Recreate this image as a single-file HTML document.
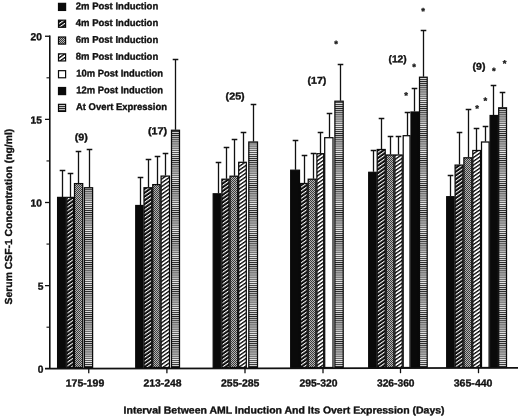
<!DOCTYPE html>
<html><head><meta charset="utf-8"><title>Serum CSF-1 Concentration</title>
<style>
html,body{margin:0;padding:0;background:#fff}
svg{display:block}
text{font-family:"Liberation Sans",sans-serif;font-weight:bold;fill:#111;stroke:#111;stroke-width:0.35px;stroke-linejoin:round;text-rendering:geometricPrecision}
</style></head><body>
<svg width="520" height="417" viewBox="0 0 520 417">
<defs>
<pattern id="p4" patternUnits="userSpaceOnUse" width="4" height="3.1" patternTransform="rotate(-35)"><rect width="4" height="3.1" fill="#0a0a0a"/><rect width="4" height="1.05" fill="#fff"/></pattern>
<pattern id="p8" patternUnits="userSpaceOnUse" width="4" height="3.1" patternTransform="rotate(-35)"><rect width="4" height="3.1" fill="#fff"/><rect width="4" height="1.35" fill="#0a0a0a"/></pattern>
<pattern id="p6" patternUnits="userSpaceOnUse" width="2" height="2"><rect width="2" height="2" fill="#b4b4b4"/><rect width="1" height="1" fill="#3c3c3c"/><rect x="1" y="1" width="1" height="1" fill="#3c3c3c"/></pattern>
<pattern id="po" patternUnits="userSpaceOnUse" width="4" height="2.08"><rect width="4" height="2.08" fill="#e8e8e8"/><rect width="4" height="0.95" fill="#222"/></pattern>
</defs>
<rect width="520" height="417" fill="#fff"/>

<g stroke="#111" stroke-width="1.3" fill="none">
<path d="M62.50 196.90V170.50M59.70 170.50H65.30"/>
<path d="M70.50 196.90V173.50M67.70 173.50H73.30"/>
<path d="M78.50 183.10V151.50M75.70 151.50H81.30"/>
<path d="M89.50 187.25V149.50M86.70 149.50H92.30"/>
<path d="M140.50 205.00V177.50M137.70 177.50H143.30"/>
<path d="M148.50 187.25V159.50M145.70 159.50H151.30"/>
<path d="M157.50 184.10V156.50M154.70 156.50H160.30"/>
<path d="M165.50 175.60V153.50M162.70 153.50H168.30"/>
<path d="M175.50 129.75V59.50M172.70 59.50H178.30"/>
<path d="M218.50 193.30V162.50M215.70 162.50H221.30"/>
<path d="M226.50 178.70V147.50M223.70 147.50H229.30"/>
<path d="M234.50 175.70V139.50M231.70 139.50H237.30"/>
<path d="M243.50 161.80V132.50M240.70 132.50H246.30"/>
<path d="M253.50 141.50V104.50M250.70 104.50H256.30"/>
<path d="M295.50 169.70V140.50M292.70 140.50H298.30"/>
<path d="M304.50 183.00V155.50M301.70 155.50H307.30"/>
<path d="M313.50 178.70V153.50M310.70 153.50H316.30"/>
<path d="M320.50 153.20V132.50M317.70 132.50H323.30"/>
<path d="M329.50 137.20V113.50M326.70 113.50H332.30"/>
<path d="M340.50 100.70V64.50M337.70 64.50H343.30"/>
<path d="M373.50 171.80V150.50M370.70 150.50H376.30"/>
<path d="M381.50 149.00V118.50M378.70 118.50H384.30"/>
<path d="M390.50 154.50V136.50M387.70 136.50H393.30"/>
<path d="M398.50 154.50V136.50M395.70 136.50H401.30"/>
<path d="M407.50 135.20V112.50M404.70 112.50H410.30"/>
<path d="M414.50 111.50V88.50M411.70 88.50H417.30"/>
<path d="M423.50 76.70V30.50M420.70 30.50H426.30"/>
<path d="M450.50 196.20V175.50M447.70 175.50H453.30"/>
<path d="M459.50 164.60V132.50M456.70 132.50H462.30"/>
<path d="M468.50 157.30V109.50M465.70 109.50H471.30"/>
<path d="M476.50 150.00V128.50M473.70 128.50H479.30"/>
<path d="M485.50 141.50V126.50M482.70 126.50H488.30"/>
<path d="M493.50 115.00V85.50M490.70 85.50H496.30"/>
<path d="M502.50 107.30V92.50M499.70 92.50H505.30"/>
</g>
<g stroke="#0a0a0a" stroke-width="1.25">
<rect x="57.60" y="197.40" width="8.20" height="170.10" fill="#0a0a0a"/>
<rect x="66.80" y="197.40" width="6.70" height="170.10" fill="url(#p4)"/>
<rect x="74.50" y="183.60" width="8.20" height="183.90" fill="url(#p6)"/>
<rect x="84.40" y="187.75" width="8.20" height="179.75" fill="url(#po)"/>
<rect x="135.75" y="205.50" width="7.25" height="162.00" fill="#0a0a0a"/>
<rect x="144.00" y="187.75" width="7.75" height="179.75" fill="url(#p4)"/>
<rect x="152.75" y="184.60" width="7.35" height="182.90" fill="url(#p6)"/>
<rect x="161.10" y="176.10" width="8.40" height="191.40" fill="url(#p8)"/>
<rect x="171.50" y="130.25" width="8.00" height="237.25" fill="url(#po)"/>
<rect x="213.20" y="193.80" width="7.70" height="173.70" fill="#0a0a0a"/>
<rect x="221.90" y="179.20" width="7.10" height="188.30" fill="url(#p4)"/>
<rect x="230.00" y="176.20" width="7.70" height="191.30" fill="url(#p6)"/>
<rect x="238.70" y="162.30" width="7.60" height="205.20" fill="url(#p8)"/>
<rect x="248.80" y="142.00" width="8.70" height="225.50" fill="url(#po)"/>
<rect x="290.70" y="170.20" width="8.80" height="197.30" fill="#0a0a0a"/>
<rect x="300.50" y="183.50" width="6.70" height="184.00" fill="url(#p4)"/>
<rect x="308.20" y="179.20" width="7.70" height="188.30" fill="url(#p6)"/>
<rect x="316.90" y="153.70" width="6.80" height="213.80" fill="url(#p8)"/>
<rect x="324.70" y="137.70" width="8.30" height="229.80" fill="#fff"/>
<rect x="334.90" y="101.20" width="8.30" height="266.30" fill="url(#po)"/>
<rect x="368.70" y="172.30" width="7.50" height="195.20" fill="#0a0a0a"/>
<rect x="377.20" y="149.50" width="8.00" height="218.00" fill="url(#p4)"/>
<rect x="386.20" y="155.00" width="7.70" height="212.50" fill="url(#p6)"/>
<rect x="394.90" y="155.00" width="7.30" height="212.50" fill="url(#p8)"/>
<rect x="403.20" y="135.70" width="6.80" height="231.80" fill="#fff"/>
<rect x="411.00" y="112.00" width="7.50" height="255.50" fill="#0a0a0a"/>
<rect x="419.50" y="77.20" width="7.70" height="290.30" fill="url(#po)"/>
<rect x="446.70" y="196.70" width="7.40" height="170.80" fill="#0a0a0a"/>
<rect x="455.10" y="165.10" width="7.80" height="202.40" fill="url(#p4)"/>
<rect x="463.90" y="157.80" width="7.90" height="209.70" fill="url(#p6)"/>
<rect x="472.80" y="150.50" width="7.70" height="217.00" fill="url(#p8)"/>
<rect x="481.50" y="142.00" width="7.60" height="225.50" fill="#fff"/>
<rect x="490.10" y="115.50" width="7.60" height="252.00" fill="#0a0a0a"/>
<rect x="498.70" y="107.80" width="7.80" height="259.70" fill="url(#po)"/>
</g>
<g stroke="#111" fill="none">
<path d="M49.8 35.5V368.8" stroke-width="1.6"/>
<path d="M45 368.6L518 367.9" stroke-width="1.8"/>
<path d="M45 285.62H50" stroke-width="1.3"/>
<path d="M45 202.50H50" stroke-width="1.3"/>
<path d="M45 119.38H50" stroke-width="1.3"/>
<path d="M45 36.25H50" stroke-width="1.3"/>
<path d="M46.5 327.19H50" stroke-width="1.1"/>
<path d="M46.5 244.06H50" stroke-width="1.1"/>
<path d="M46.5 160.94H50" stroke-width="1.1"/>
<path d="M46.5 77.81H50" stroke-width="1.1"/>
<path d="M88.75 368V373.2" stroke-width="1.3"/>
<path d="M166.90 368V373.2" stroke-width="1.3"/>
<path d="M245.00 368V373.2" stroke-width="1.3"/>
<path d="M323.00 368V373.2" stroke-width="1.3"/>
<path d="M400.50 368V373.2" stroke-width="1.3"/>
<path d="M478.50 368V373.2" stroke-width="1.3"/>
</g>
<text transform="translate(37.80 372.85) rotate(0.05)" font-size="10.3" textLength="5.70" lengthAdjust="spacingAndGlyphs">0</text>
<text transform="translate(37.80 289.73) rotate(0.05)" font-size="10.3" textLength="5.70" lengthAdjust="spacingAndGlyphs">5</text>
<text transform="translate(30.50 206.60) rotate(0.05)" font-size="10.3" textLength="11.40" lengthAdjust="spacingAndGlyphs">10</text>
<text transform="translate(30.50 123.47) rotate(0.05)" font-size="10.3" textLength="11.40" lengthAdjust="spacingAndGlyphs">15</text>
<text transform="translate(30.50 40.35) rotate(0.05)" font-size="10.3" textLength="11.40" lengthAdjust="spacingAndGlyphs">20</text>
<text transform="translate(65.75 386.40) rotate(0.05)" font-size="10.3" textLength="38.50" lengthAdjust="spacingAndGlyphs">175-199</text>
<text transform="translate(143.50 386.40) rotate(0.05)" font-size="10.3" textLength="38.00" lengthAdjust="spacingAndGlyphs">213-248</text>
<text transform="translate(221.00 386.40) rotate(0.05)" font-size="10.3" textLength="38.40" lengthAdjust="spacingAndGlyphs">255-285</text>
<text transform="translate(299.50 386.40) rotate(0.05)" font-size="10.3" textLength="38.00" lengthAdjust="spacingAndGlyphs">295-320</text>
<text transform="translate(377.00 386.40) rotate(0.05)" font-size="10.3" textLength="37.50" lengthAdjust="spacingAndGlyphs">326-360</text>
<text transform="translate(453.75 386.40) rotate(0.05)" font-size="10.3" textLength="38.75" lengthAdjust="spacingAndGlyphs">365-440</text>
<text transform="translate(123.60 413.40) rotate(0.03)" font-size="10.1" textLength="321.00" lengthAdjust="spacingAndGlyphs">Interval Between AML Induction And Its Overt Expression (Days)</text>
<text transform="translate(11.60 304.40) rotate(-90)" font-size="10.2" textLength="175.70" lengthAdjust="spacingAndGlyphs">Serum CSF-1 Concentration (ng/ml)</text>
<text transform="translate(74.80 140.40) rotate(0.05)" font-size="9.9" textLength="13.10" lengthAdjust="spacingAndGlyphs">(9)</text>
<text transform="translate(147.90 134.20) rotate(0.05)" font-size="9.9" textLength="19.20" lengthAdjust="spacingAndGlyphs">(17)</text>
<text transform="translate(225.60 99.60) rotate(0.05)" font-size="9.9" textLength="19.10" lengthAdjust="spacingAndGlyphs">(25)</text>
<text transform="translate(307.50 83.80) rotate(0.05)" font-size="9.9" textLength="18.90" lengthAdjust="spacingAndGlyphs">(17)</text>
<text transform="translate(388.50 62.30) rotate(0.05)" font-size="9.9" textLength="18.20" lengthAdjust="spacingAndGlyphs">(12)</text>
<text transform="translate(472.50 69.70) rotate(0.05)" font-size="9.9" textLength="12.90" lengthAdjust="spacingAndGlyphs">(9)</text>
<text transform="translate(334.35 47.30) rotate(0.05)" font-size="9.6" textLength="3.70" lengthAdjust="spacingAndGlyphs">*</text>
<text transform="translate(421.35 14.50) rotate(0.05)" font-size="9.6" textLength="3.70" lengthAdjust="spacingAndGlyphs">*</text>
<text transform="translate(412.35 70.20) rotate(0.05)" font-size="9.6" textLength="3.70" lengthAdjust="spacingAndGlyphs">*</text>
<text transform="translate(404.15 98.80) rotate(0.05)" font-size="9.6" textLength="3.70" lengthAdjust="spacingAndGlyphs">*</text>
<text transform="translate(502.75 66.80) rotate(0.05)" font-size="9.6" textLength="3.70" lengthAdjust="spacingAndGlyphs">*</text>
<text transform="translate(491.95 74.30) rotate(0.05)" font-size="9.6" textLength="3.70" lengthAdjust="spacingAndGlyphs">*</text>
<text transform="translate(483.55 104.00) rotate(0.05)" font-size="9.6" textLength="3.70" lengthAdjust="spacingAndGlyphs">*</text>
<text transform="translate(475.15 111.80) rotate(0.05)" font-size="9.6" textLength="3.70" lengthAdjust="spacingAndGlyphs">*</text>
<rect x="58.5" y="3.35" width="7.1" height="7.1" fill="#0a0a0a" stroke="#0a0a0a" stroke-width="1.2"/>
<text transform="translate(75.75 9.25) rotate(0.05)" font-size="9.7" textLength="82.50" lengthAdjust="spacingAndGlyphs">2m Post Induction</text>
<rect x="58.5" y="20.18" width="7.1" height="7.1" fill="url(#p4)" stroke="#0a0a0a" stroke-width="1.2"/>
<text transform="translate(75.75 26.04) rotate(0.05)" font-size="9.7" textLength="82.50" lengthAdjust="spacingAndGlyphs">4m Post Induction</text>
<rect x="58.5" y="37.01" width="7.1" height="7.1" fill="url(#p6)" stroke="#0a0a0a" stroke-width="1.2"/>
<text transform="translate(75.75 42.83) rotate(0.05)" font-size="9.7" textLength="82.50" lengthAdjust="spacingAndGlyphs">6m Post Induction</text>
<rect x="58.5" y="53.84" width="7.1" height="7.1" fill="url(#p8)" stroke="#0a0a0a" stroke-width="1.2"/>
<text transform="translate(75.75 59.62) rotate(0.05)" font-size="9.7" textLength="82.50" lengthAdjust="spacingAndGlyphs">8m Post Induction</text>
<rect x="58.5" y="70.67" width="7.1" height="7.1" fill="#fff" stroke="#0a0a0a" stroke-width="1.2"/>
<text transform="translate(76.25 76.41) rotate(0.05)" font-size="9.7" textLength="86.75" lengthAdjust="spacingAndGlyphs">10m Post Induction</text>
<rect x="58.5" y="87.50" width="7.1" height="7.1" fill="#0a0a0a" stroke="#0a0a0a" stroke-width="1.2"/>
<text transform="translate(76.25 93.20) rotate(0.05)" font-size="9.7" textLength="86.75" lengthAdjust="spacingAndGlyphs">12m Post Induction</text>
<rect x="58.5" y="104.33" width="7.1" height="7.1" fill="url(#po)" stroke="#0a0a0a" stroke-width="1.2"/>
<text transform="translate(76.00 109.99) rotate(0.05)" font-size="9.7" textLength="91.00" lengthAdjust="spacingAndGlyphs">At Overt Expression</text>
</svg>
</body></html>
